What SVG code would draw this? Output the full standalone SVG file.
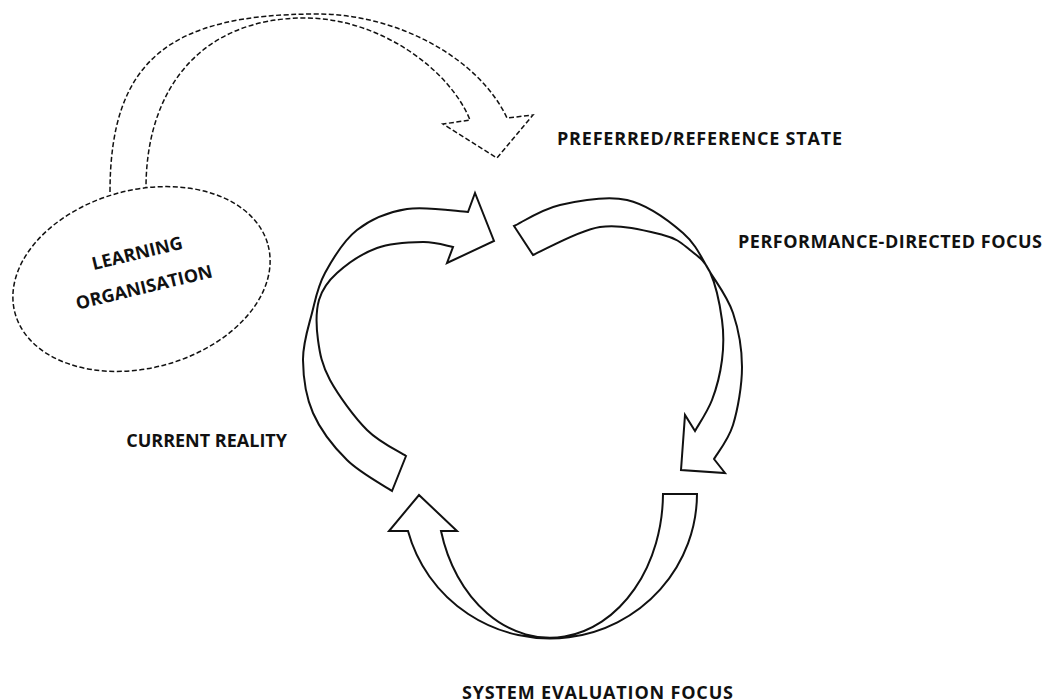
<svg xmlns="http://www.w3.org/2000/svg" width="1055" height="700" viewBox="0 0 1055 700">
<style>
.lbl{font-family:"Open Sans","Liberation Sans",sans-serif;font-weight:700;font-size:18px;fill:#111}
.dash{fill:none;stroke:#111;stroke-width:1.5;stroke-dasharray:5 2.5}
.solid{fill:none;stroke:#111;stroke-width:2;stroke-linejoin:miter}
</style>
<rect width="1055" height="700" fill="#fff"/>
<g id="learning-organisation">
<ellipse class="dash" cx="141.5" cy="279" rx="131" ry="89" transform="rotate(-15 141.5 279)"/>
<g transform="translate(137 253) rotate(-13.5)"><text class="lbl" x="0" y="6.5" text-anchor="middle">LEARNING</text></g>
<g transform="translate(144 287) rotate(-13.5)"><text class="lbl" x="0" y="6.5" text-anchor="middle">ORGANISATION</text></g>
</g>
<g id="preferred-state"><text class="lbl" x="557" y="145" textLength="285">PREFERRED/REFERENCE STATE</text></g>
<g id="performance-focus"><text class="lbl" x="738" y="248" textLength="304">PERFORMANCE-DIRECTED FOCUS</text></g>
<g id="current-reality"><text class="lbl" x="287" y="447" text-anchor="end">CURRENT REALITY</text></g>
<g id="system-evaluation"><text class="lbl" x="462" y="699" textLength="271">SYSTEM EVALUATION FOCUS</text></g>
<g id="connectors">
<path class="dash" d="M110,192 C110,60 170,14 317,14 C400,14 480,60 507,118 L533,115 L497,158 L443,124 L470,120 C450,70 380,18 305,18 C200,18 146,90 146,188"/>
<path class="solid" d="M392,491 C384.5,485.8 360.2,473 347,460 C333.8,447 320.3,429.7 313,413 C305.7,396.3 303.2,376.7 303,360 C302.8,343.3 308.3,327.5 312,313 C315.7,298.5 317.5,286.8 325,273 C332.5,259.2 343.3,240.7 357,230 C370.7,219.3 388.5,212 407,209 C425.5,206 457.8,211.5 468,212 L475,193 L494,241 L447,263 L453,247 C448,246.2 435.7,241.8 423,242 C410.3,242.2 391.3,242.8 377,248 C362.7,253.2 346.7,264.3 337,273 C327.3,281.7 322.2,288.8 319,300 C315.8,311.2 316.2,326.7 318,340 C319.8,353.3 321.8,365 330,380 C338.2,395 354.3,417.3 367,430 C379.7,442.7 399.5,451.7 406,456 Z"/>
<path class="solid" d="M514,226 C521.7,222.5 541.2,209.3 560,205 C578.8,200.7 606.5,195.3 627,200 C647.5,204.7 669.2,221 683,233 C696.8,245 701.7,258.7 710,272 C718.3,285.3 727.7,297.2 733,313 C738.3,328.8 742,348.3 742,367 C742,385.7 737.7,409.7 733,425 C728.3,440.3 717.2,453.3 714,459 L725,473 L681,470 L685,415 L695,431 C697.8,425.8 707.5,411.8 712,400 C716.5,388.2 720.3,373.3 722,360 C723.7,346.7 724,334.7 722,320 C720,305.3 715.3,283.7 710,272 C704.7,260.3 697.8,256.2 690,250 C682.2,243.8 678,238.8 663,235 C648,231.2 621.7,223.7 600,227 C578.3,230.3 544.2,250.3 533,255 Z"/>
<path class="solid" d="M663,494 L697,494 A147 145 0 0 1 408,531 L389,531 L419,495 L457,531 L441,531 A113 145 0 0 0 663,494 Z"/>
</g>
</svg>
